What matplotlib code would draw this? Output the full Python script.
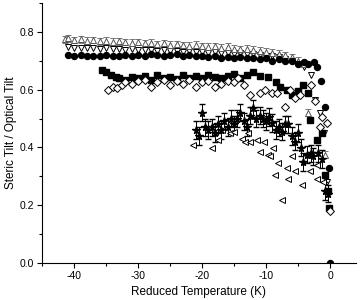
import numpy as np
import matplotlib.pyplot as plt
from matplotlib.ticker import MultipleLocator

plt.rcParams['font.family'] = ['Liberation Sans', 'DejaVu Sans']

# open up-triangles (with grey error bars), top band
up_x = [-41.5, -41, -40, -39, -38, -37, -36, -35, -34, -33, -32, -31, -30, -29,
        -28, -27, -26, -25, -24, -23, -22, -21, -20, -19, -18, -17, -16, -15,
        -14, -13, -12, -11, -10, -9, -8, -7, -6, -5, -4, -3.4, -0.8]
up_y = [0.775, 0.778, 0.772, 0.775, 0.770, 0.772, 0.768, 0.770, 0.766, 0.768,
        0.765, 0.762, 0.765, 0.760, 0.762, 0.758, 0.760, 0.756, 0.758, 0.754,
        0.752, 0.755, 0.750, 0.748, 0.750, 0.745, 0.748, 0.742, 0.740, 0.742,
        0.738, 0.735, 0.732, 0.728, 0.725, 0.720, 0.712, 0.700, 0.690, 0.52, 0.375]
up_err = [0.012] * len(up_x)

# open down-triangles
dn_x = [-41, -40, -39, -38, -37, -36, -35, -34, -33, -32, -31, -30, -29, -28,
        -27, -26, -25, -24, -23, -22, -21, -20, -19, -18, -17, -16, -15, -14,
        -13, -12, -11, -10, -9, -8, -7, -6, -5, -4, -3, -2.3, -1.5, -1, -0.5]
dn_y = [0.748, 0.745, 0.746, 0.744, 0.745, 0.742, 0.744, 0.740, 0.742, 0.738,
        0.740, 0.738, 0.736, 0.738, 0.735, 0.736, 0.733, 0.735, 0.732, 0.733,
        0.730, 0.732, 0.728, 0.730, 0.726, 0.728, 0.725, 0.726, 0.722, 0.724,
        0.720, 0.718, 0.715, 0.712, 0.705, 0.700, 0.690, 0.680, 0.650, 0.565,
        0.52, 0.45, 0.28]

# filled circles
ci_x = [-41, -40, -39, -38, -37, -36, -35, -34, -33, -32, -31, -30, -29, -28,
        -27, -26, -25, -24, -23, -22, -21, -20, -19, -18, -17, -16, -15, -14,
        -13, -12, -11, -10, -9, -8, -7, -6, -5, -4, -3.4, -2.5, -2, -1.4, -0.8,
        -0.1, 0]
ci_y = [0.720, 0.718, 0.720, 0.715, 0.718, 0.716, 0.720, 0.718, 0.715, 0.720,
        0.717, 0.720, 0.718, 0.722, 0.720, 0.718, 0.720, 0.722, 0.718, 0.720,
        0.715, 0.718, 0.712, 0.715, 0.710, 0.714, 0.710, 0.712, 0.708, 0.710,
        0.705, 0.708, 0.700, 0.705, 0.700, 0.698, 0.690, 0.695, 0.690, 0.695,
        0.680, 0.630, 0.540, 0.330, 0.0]

# filled squares
sq_x = [-35.6, -35, -34.2, -33.5, -33, -32, -31, -30, -29, -28, -27, -26, -25,
        -24, -23, -22, -21, -20, -19, -18, -17, -16, -15, -14, -13, -12, -11,
        -9.7, -8.5, -7.8, -6.8, -6, -5, -4.2, -3.4, -3.1, -2, -1.25, -0.8, -0.4,
        -0.1]
sq_y = [0.668, 0.660, 0.650, 0.645, 0.640, 0.635, 0.645, 0.640, 0.648, 0.635,
        0.650, 0.640, 0.645, 0.638, 0.650, 0.642, 0.648, 0.640, 0.650, 0.645,
        0.640, 0.648, 0.655, 0.640, 0.650, 0.660, 0.648, 0.645, 0.625, 0.610,
        0.600, 0.580, 0.595, 0.617, 0.590, 0.495, 0.425, 0.450, 0.305, 0.25,
        0.19]

# open diamonds
di_x = [-34.7, -34, -33.3, -32.5, -32, -31, -30, -29, -28, -27, -26, -25, -24,
        -23, -22, -21, -20, -19, -18, -17, -16, -15, -14.4, -13.5, -12.5, -11,
        -10.2, -9, -8.3, -7, -6.25, -5.5, -4.7, -3, -2.3, -1.6, -1.25, -0.5, 0]
di_y = [0.600, 0.610, 0.605, 0.615, 0.625, 0.620, 0.630, 0.635, 0.610, 0.625,
        0.635, 0.615, 0.630, 0.620, 0.635, 0.610, 0.625, 0.630, 0.610, 0.620,
        0.630, 0.625, 0.640, 0.615, 0.580, 0.590, 0.600, 0.590, 0.590, 0.540,
        0.600, 0.570, 0.580, 0.617, 0.560, 0.470, 0.505, 0.485, 0.180]

# filled stars (with black error bars)
st_x = [-21, -20.5, -20, -19.5, -19, -18.5, -18, -17.5, -17, -16.5, -16, -15.5,
        -15, -14.5, -14, -13.5, -13, -12.5, -12, -11.5, -11, -10.5, -10, -9.5,
        -9, -8.5, -8, -7.5, -7, -6.5, -6, -5.5, -5, -4.5, -4.2, -3.6, -3, -2.6,
        -1.9, -1.25, -0.8, -0.4]
st_y = [0.46, 0.44, 0.52, 0.47, 0.46, 0.47, 0.45, 0.48, 0.46, 0.49, 0.47, 0.50,
        0.48, 0.50, 0.52, 0.49, 0.47, 0.51, 0.535, 0.50, 0.51, 0.50, 0.49, 0.505,
        0.485, 0.46, 0.47, 0.455, 0.48, 0.48, 0.44, 0.42, 0.45, 0.40, 0.35,
        0.375, 0.38, 0.37, 0.38, 0.36, 0.25, 0.24]
st_err = [0.03] * len(st_x)

# open left-triangles
lt_x = [-21.5, -18.4, -18, -17.5, -16.9, -15.6, -15, -13.8, -13.3, -12.8, -12.5,
        -11.4, -11, -10.4, -9.7, -9.4, -8.9, -8.6, -8.1, -7.5, -6.7, -6.5, -6,
        -5.5, -4.4, -3.6, -3.1, -2, -2, -1.1]
lt_y = [0.41, 0.40, 0.455, 0.425, 0.46, 0.45, 0.455, 0.43, 0.42, 0.45, 0.42,
        0.425, 0.385, 0.42, 0.375, 0.37, 0.40, 0.305, 0.345, 0.22, 0.33, 0.29,
        0.37, 0.32, 0.27, 0.375, 0.32, 0.34, 0.29, 0.28]

fig = plt.figure(figsize=(3.6, 3.0), dpi=100)
ax = fig.add_axes([0.117, 0.123, 0.871, 0.867])

ms = 4.3
ax.errorbar(up_x, up_y, yerr=up_err, fmt='^', ms=ms, mfc='white', mec='#555555',
            mew=0.7, ecolor='#777777', elinewidth=0.7, capsize=2, zorder=3)
ax.plot(dn_x, dn_y, 'v', ms=ms, mfc='white', mec='black', mew=0.7, zorder=3)
ax.plot(ci_x, ci_y, 'o', ms=ms, color='black', zorder=4)
ax.plot(sq_x, sq_y, 's', ms=ms, color='black', zorder=3)
ax.plot(di_x, di_y, 'D', ms=3.8, mfc='white', mec='black', mew=0.7, zorder=3)
ax.errorbar(st_x, st_y, yerr=st_err, fmt='*', ms=5.5, color='black',
            ecolor='black', elinewidth=0.7, capsize=2, zorder=3)
ax.plot(lt_x, lt_y, '<', ms=ms, mfc='white', mec='black', mew=0.7, zorder=3)

ax.set_xlim(-45, 4)
ax.set_ylim(0, 0.9)
ax.xaxis.set_major_locator(MultipleLocator(10))
ax.xaxis.set_minor_locator(MultipleLocator(5))
ax.yaxis.set_major_locator(MultipleLocator(0.2))
ax.yaxis.set_minor_locator(MultipleLocator(0.1))
ax.set_xticks([-40, -30, -20, -10, 0])
ax.set_xticklabels(['-40', '-30', '-20', '-10', '0'])
ax.set_yticklabels([f'{v:.1f}' for v in ax.get_yticks()])
ax.spines['top'].set_visible(False)
ax.spines['right'].set_visible(False)
ax.tick_params(which='major', length=3.5, width=0.8, labelsize=7.5, pad=2.5)
ax.tick_params(which='minor', length=2, width=0.8)
ax.set_xlabel('Reduced Temperature (K)', fontsize=8.5, labelpad=3)
ax.set_ylabel('Steric Tilt / Optical Tilt', fontsize=8.5, labelpad=2)

plt.savefig('out.png', dpi=100)
